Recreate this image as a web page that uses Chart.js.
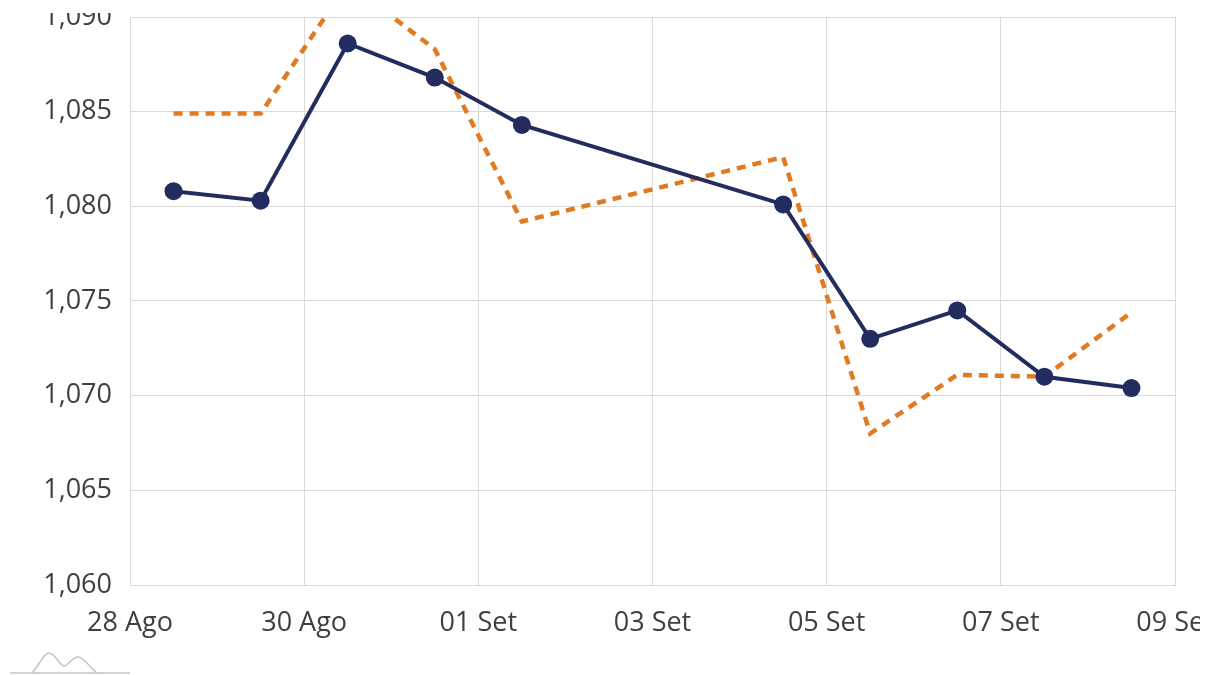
<!DOCTYPE html>
<html>
<head>
<meta charset="utf-8">
<script src="https://cdn.jsdelivr.net/npm/chart.js@4/dist/chart.umd.min.js"></script>
<style>
  html, body { margin: 0; padding: 0; background: #fff; overflow: hidden; }
  #wrap { position: relative; width: 1200px; height: 675px; overflow: hidden; }
  #chart { position: absolute; left: 0; top: 0; }
  #topMask { position: absolute; left: 0; top: 0; width: 1200px; height: 13px; background: #fff; }
  #logo { position: absolute; left: 0; top: 640px; }
</style>
</head>
<body>
<div id="wrap">
  <canvas id="chart" width="1230" height="675"></canvas>
  <div id="topMask"></div>
  <svg id="logo" width="140" height="35" viewBox="0 0 140 35">
    <path d="M10 33 H130" stroke="#c4c4c4" stroke-width="1.5" fill="none"/>
    <path d="M32 33 C40 24 44 13 49 13 C55 13 60 26 64 26 C68 26 72 17 78 17 C84 17 90 28 97 33" stroke="#c4c4c4" stroke-width="1.5" fill="none"/>
  </svg>
</div>
<script>
// Trading days (values plotted at midday)
const dates = ['2023-08-28', '2023-08-29', '2023-08-30', '2023-08-31', '2023-09-01',
               '2023-09-04', '2023-09-05', '2023-09-06', '2023-09-07', '2023-09-08'];
// Observed exchange rate
const rateValues = [1.0808, 1.0803, 1.0886, 1.0868, 1.0843, 1.0801, 1.0730, 1.0745, 1.0710, 1.0704];
// Forecast series (dashed)
const forecastValues = [1.0849, 1.0849, 1.0918, 1.0883, 1.0792, 1.0826, 1.0680, 1.0711, 1.0710, 1.0744];
// X axis labels, one every two days starting on 28 Aug
const xTickLabels = ['28 Ago', '30 Ago', '01 Set', '03 Set', '05 Set', '07 Set', '09 Set'];
const yMin = 1.060, yMax = 1.090, yStep = 0.005;

const DAY = 864e5;
const base = Date.UTC(2023, 7, 28);
const dayOffset = d => (Date.parse(d + 'T12:00:00Z') - base) / DAY;
const toPoints = vals => vals.map((v, i) => ({ x: dayOffset(dates[i]), y: v }));

const gridColor = '#dadada';
const textColor = '#404040';
const font = { family: '"Open Sans", "Noto Sans", sans-serif', size: 27 };

const chart = new Chart(document.getElementById('chart'), {
  type: 'line',
  data: {
    datasets: [
      {
        label: 'Câmbio',
        data: toPoints(rateValues),
        borderColor: '#232c5f',
        backgroundColor: '#232c5f',
        borderWidth: 4,
        pointRadius: 9,
        pointHoverRadius: 9,
        pointBorderWidth: 0,
        tension: 0,
        clip: 0,
        order: 0
      },
      {
        label: 'Previsão',
        data: toPoints(forecastValues),
        borderColor: '#e27a22',
        borderWidth: 4.5,
        borderDash: [9, 7],
        pointRadius: 0,
        tension: 0,
        clip: 0,
        order: 1
      }
    ]
  },
  options: {
    responsive: false,
    animation: false,
    layout: { padding: { top: 17, right: 55, bottom: 0, left: 0 } },
    plugins: { legend: { display: false }, tooltip: { enabled: false } },
    scales: {
      x: {
        type: 'linear',
        min: 0,
        max: 12,
        afterFit: s => { s.height = 90; s.paddingLeft = 0; s.paddingRight = 0; },
        ticks: {
          stepSize: 2,
          autoSkip: false,
          maxRotation: 0,
          padding: 22,
          color: textColor,
          font: font,
          callback: v => xTickLabels[Math.round(v / 2)]
        },
        grid: { color: gridColor, lineWidth: 1, drawTicks: false },
        border: { color: gridColor }
      },
      y: {
        min: yMin,
        max: yMax,
        afterFit: s => { s.width = 130; s.paddingTop = 0; s.paddingBottom = 0; },
        ticks: {
          stepSize: yStep,
          padding: 18,
          color: textColor,
          font: font,
          callback: v => v.toFixed(3).replace('.', ',')
        },
        grid: { color: gridColor, lineWidth: 1, drawTicks: false },
        border: { color: gridColor }
      }
    }
  }
});
</script>
</body>
</html>
